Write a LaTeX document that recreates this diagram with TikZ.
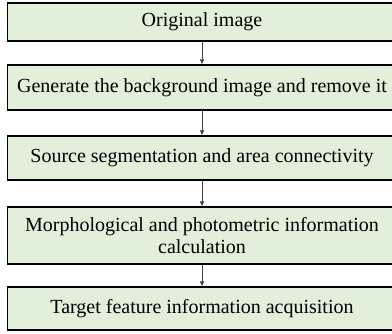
\documentclass[tikz,border=0pt]{standalone}
\usepackage{fontspec}
\setmainfont{Liberation Serif}
\usetikzlibrary{arrows.meta}
\definecolor{boxfill}{RGB}{226,239,218}
\tikzset{
  stage/.style={draw=black, line width=1.1pt, fill=boxfill, rectangle,
    minimum width=389pt, inner sep=0pt, align=center,
    font=\fontsize{20}{22}\selectfont},
  flow/.style={draw=black!75, line width=0.6pt,
    -{Latex[length=5pt,width=4.5pt]}}
}
\begin{document}
\begin{tikzpicture}[x=1pt,y=-1pt]
  \useasboundingbox (0,0) rectangle (392,333);
  \node[stage, minimum height=38pt] (s1) at (202,22) {Original image};
  \node[stage, minimum height=45pt] (s2) at (202,87.5) {Generate the background image and remove it};
  \node[stage, minimum height=44pt] (s3) at (202,158) {Source segmentation and area connectivity};
  \node[stage, minimum height=57pt] (s4) at (202,235.5) {Morphological and photometric information\\calculation};
  \node[stage, minimum height=43pt] (s5) at (202,308.5) {Target feature information acquisition};
  \draw[flow] (s1) -- (s2);
  \draw[flow] (s2) -- (s3);
  \draw[flow] (s3) -- (s4);
  \draw[flow] (s4) -- (s5);
\end{tikzpicture}
\end{document}
